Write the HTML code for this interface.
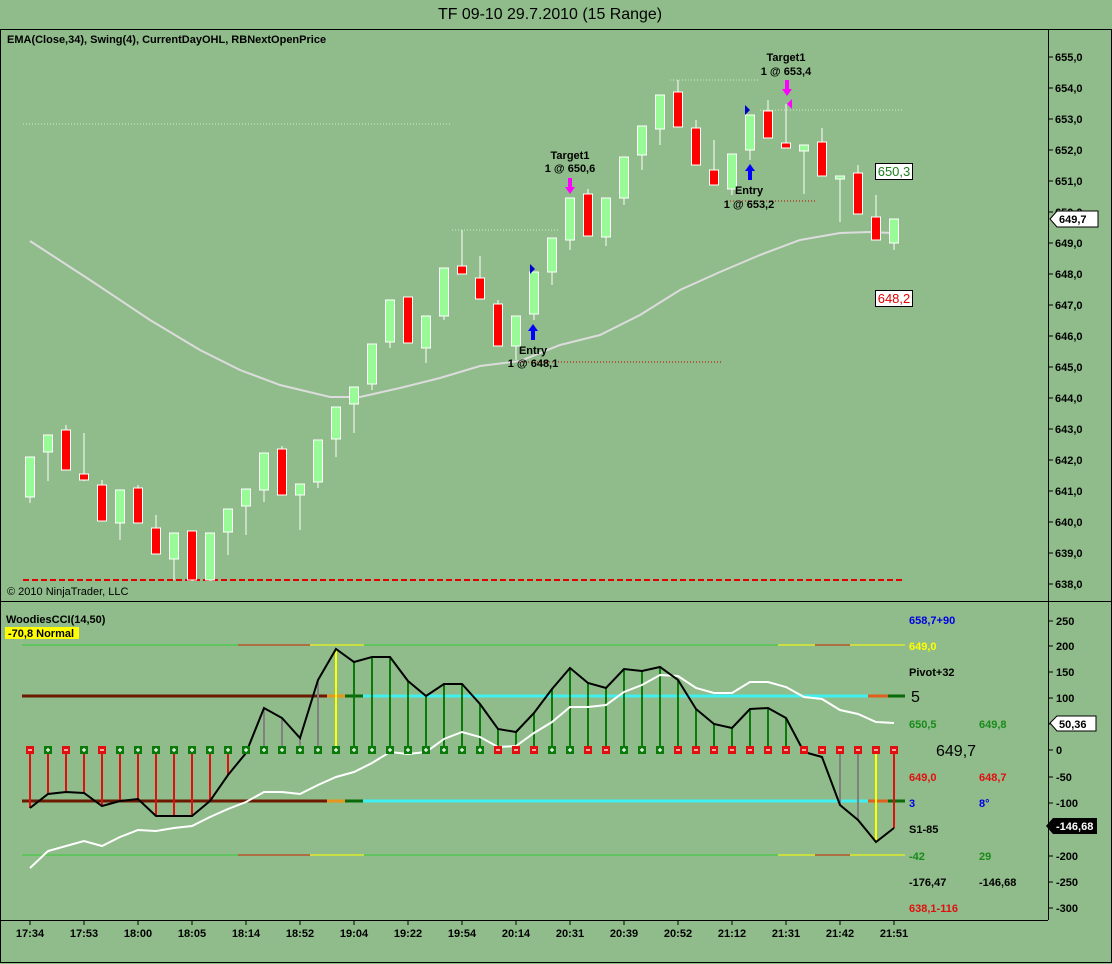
<!DOCTYPE html>
<html><head><meta charset="utf-8"><style>
html,body{margin:0;padding:0;background:#8fbc8a;}
svg{display:block;font-family:"Liberation Sans",sans-serif;}
.b{font-weight:bold;font-size:11px;}
</style></head><body>
<svg width="1112" height="964" viewBox="0 0 1112 964" xmlns="http://www.w3.org/2000/svg">
<rect x="0" y="0" width="1112" height="964" fill="#8fbc8a"/>
<text x="550" y="19" font-size="16" text-anchor="middle" fill="#000" textLength="224" lengthAdjust="spacingAndGlyphs">TF 09-10  29.7.2010 (15 Range)</text>
<rect x="0.5" y="29.5" width="1111" height="933" fill="none" stroke="#000"/>
<line x1="0" y1="601.5" x2="1112" y2="601.5" stroke="#000"/>
<line x1="1048.5" y1="29" x2="1048.5" y2="920" stroke="#000"/>
<line x1="0" y1="920.5" x2="1048" y2="920.5" stroke="#000"/>
<text x="7" y="43" class="b">EMA(Close,34), Swing(4), CurrentDayOHL, RBNextOpenPrice</text>
<text x="7" y="595" font-size="11">© 2010 NinjaTrader, LLC</text>
<g stroke="#000">
<line x1="1048" y1="57" x2="1053" y2="57"/><line x1="1048" y1="88" x2="1053" y2="88"/><line x1="1048" y1="119" x2="1053" y2="119"/><line x1="1048" y1="150" x2="1053" y2="150"/><line x1="1048" y1="181" x2="1053" y2="181"/><line x1="1048" y1="212" x2="1053" y2="212"/><line x1="1048" y1="243" x2="1053" y2="243"/><line x1="1048" y1="274" x2="1053" y2="274"/><line x1="1048" y1="305" x2="1053" y2="305"/><line x1="1048" y1="336" x2="1053" y2="336"/><line x1="1048" y1="367" x2="1053" y2="367"/><line x1="1048" y1="398" x2="1053" y2="398"/><line x1="1048" y1="429" x2="1053" y2="429"/><line x1="1048" y1="460" x2="1053" y2="460"/><line x1="1048" y1="491" x2="1053" y2="491"/><line x1="1048" y1="522" x2="1053" y2="522"/><line x1="1048" y1="553" x2="1053" y2="553"/><line x1="1048" y1="584" x2="1053" y2="584"/>
</g>
<g font-size="11" font-weight="bold" fill="#000">
<text x="1055" y="61">655,0</text><text x="1055" y="92">654,0</text><text x="1055" y="123">653,0</text><text x="1055" y="154">652,0</text><text x="1055" y="185">651,0</text><text x="1055" y="216">650,0</text><text x="1055" y="247">649,0</text><text x="1055" y="278">648,0</text><text x="1055" y="309">647,0</text><text x="1055" y="340">646,0</text><text x="1055" y="371">645,0</text><text x="1055" y="402">644,0</text><text x="1055" y="433">643,0</text><text x="1055" y="464">642,0</text><text x="1055" y="495">641,0</text><text x="1055" y="526">640,0</text><text x="1055" y="557">639,0</text><text x="1055" y="588">638,0</text>
</g>
<path d="M1050,219 L1057,211 L1098,211 L1098,227 L1057,227 Z" fill="#fff" stroke="#000"/>
<text x="1059" y="223" class="b">649,7</text>
<g stroke-dasharray="1,2" stroke-width="1">
<line x1="23" y1="124" x2="452" y2="124" stroke="#c8f0c0"/>
<line x1="452" y1="230" x2="560" y2="230" stroke="#c8f0c0"/>
<line x1="670" y1="80" x2="760" y2="80" stroke="#c8f0c0"/>
<line x1="760" y1="110" x2="902" y2="110" stroke="#c8f0c0"/>
<line x1="510" y1="362" x2="723" y2="362" stroke="#c00000"/>
<line x1="730" y1="201" x2="815" y2="201" stroke="#c00000"/>
</g>
<line x1="23" y1="580" x2="905" y2="580" stroke="#e00000" stroke-width="2" stroke-dasharray="6,3"/>
<polyline fill="none" stroke="#dcdcdc" stroke-width="2" points="30,241 90,280 150,320 200,350 240,370 280,385 330,397 360,397 400,388 440,378 480,366 520,361 560,345 600,335 640,315 680,290 720,272 760,255 800,240 840,233 870,232 894,233"/>
<g stroke="#fff" stroke-width="1">
<line x1="30" y1="457" x2="30" y2="503"/><rect x="25.5" y="457" width="9" height="40" fill="#98fb98"/>
<line x1="48" y1="435" x2="48" y2="481"/><rect x="43.5" y="435" width="9" height="17" fill="#98fb98"/>
<line x1="66" y1="425" x2="66" y2="470"/><rect x="61.5" y="430" width="9" height="40" fill="#f00"/>
<line x1="84" y1="433" x2="84" y2="481"/><rect x="79.5" y="474" width="9" height="6" fill="#f00"/>
<line x1="102" y1="480" x2="102" y2="521"/><rect x="97.5" y="485" width="9" height="36" fill="#f00"/>
<line x1="120" y1="490" x2="120" y2="540"/><rect x="115.5" y="490" width="9" height="33" fill="#98fb98"/>
<line x1="138" y1="485" x2="138" y2="523"/><rect x="133.5" y="488" width="9" height="35" fill="#f00"/>
<line x1="156" y1="515" x2="156" y2="554"/><rect x="151.5" y="528" width="9" height="26" fill="#f00"/>
<line x1="174" y1="533" x2="174" y2="580"/><rect x="169.5" y="533" width="9" height="26" fill="#98fb98"/>
<line x1="192" y1="531" x2="192" y2="580"/><rect x="187.5" y="531" width="9" height="49" fill="#f00"/>
<line x1="210" y1="533" x2="210" y2="580"/><rect x="205.5" y="533" width="9" height="47" fill="#98fb98"/>
<line x1="228" y1="509" x2="228" y2="555"/><rect x="223.5" y="509" width="9" height="23" fill="#98fb98"/>
<line x1="246" y1="489" x2="246" y2="535"/><rect x="241.5" y="489" width="9" height="17" fill="#98fb98"/>
<line x1="264" y1="453" x2="264" y2="502"/><rect x="259.5" y="453" width="9" height="37" fill="#98fb98"/>
<line x1="282" y1="446" x2="282" y2="495"/><rect x="277.5" y="449" width="9" height="46" fill="#f00"/>
<line x1="300" y1="484" x2="300" y2="530"/><rect x="295.5" y="484" width="9" height="11" fill="#98fb98"/>
<line x1="318" y1="440" x2="318" y2="488"/><rect x="313.5" y="440" width="9" height="42" fill="#98fb98"/>
<line x1="336" y1="407" x2="336" y2="457"/><rect x="331.5" y="407" width="9" height="32" fill="#98fb98"/>
<line x1="354" y1="387" x2="354" y2="433"/><rect x="349.5" y="387" width="9" height="17" fill="#98fb98"/>
<line x1="372" y1="344" x2="372" y2="390"/><rect x="367.5" y="344" width="9" height="40" fill="#98fb98"/>
<line x1="390" y1="300" x2="390" y2="348"/><rect x="385.5" y="300" width="9" height="42" fill="#98fb98"/>
<line x1="408" y1="297" x2="408" y2="343"/><rect x="403.5" y="297" width="9" height="46" fill="#f00"/>
<line x1="426" y1="316" x2="426" y2="363"/><rect x="421.5" y="316" width="9" height="32" fill="#98fb98"/>
<line x1="444" y1="268" x2="444" y2="320"/><rect x="439.5" y="268" width="9" height="48" fill="#98fb98"/>
<line x1="462" y1="230" x2="462" y2="274"/><rect x="457.5" y="266" width="9" height="8" fill="#f00"/>
<line x1="480" y1="256" x2="480" y2="299"/><rect x="475.5" y="278" width="9" height="21" fill="#f00"/>
<line x1="498" y1="300" x2="498" y2="346"/><rect x="493.5" y="304" width="9" height="42" fill="#f00"/>
<line x1="516" y1="316" x2="516" y2="360"/><rect x="511.5" y="316" width="9" height="30" fill="#98fb98"/>
<line x1="534" y1="272" x2="534" y2="320"/><rect x="529.5" y="272" width="9" height="42" fill="#98fb98"/>
<line x1="552" y1="238" x2="552" y2="285"/><rect x="547.5" y="238" width="9" height="34" fill="#98fb98"/>
<line x1="570" y1="198" x2="570" y2="250"/><rect x="565.5" y="198" width="9" height="42" fill="#98fb98"/>
<line x1="588" y1="189" x2="588" y2="236"/><rect x="583.5" y="194" width="9" height="42" fill="#f00"/>
<line x1="606" y1="198" x2="606" y2="246"/><rect x="601.5" y="198" width="9" height="39" fill="#98fb98"/>
<line x1="624" y1="157" x2="624" y2="205"/><rect x="619.5" y="157" width="9" height="41" fill="#98fb98"/>
<line x1="642" y1="126" x2="642" y2="170"/><rect x="637.5" y="126" width="9" height="29" fill="#98fb98"/>
<line x1="660" y1="95" x2="660" y2="145"/><rect x="655.5" y="95" width="9" height="34" fill="#98fb98"/>
<line x1="678" y1="80" x2="678" y2="127"/><rect x="673.5" y="92" width="9" height="35" fill="#f00"/>
<line x1="696" y1="120" x2="696" y2="165"/><rect x="691.5" y="128" width="9" height="37" fill="#f00"/>
<line x1="714" y1="140" x2="714" y2="185"/><rect x="709.5" y="170" width="9" height="15" fill="#f00"/>
<line x1="732" y1="154" x2="732" y2="195"/><rect x="727.5" y="154" width="9" height="35" fill="#98fb98"/>
<line x1="750" y1="115" x2="750" y2="160"/><rect x="745.5" y="115" width="9" height="35" fill="#98fb98"/>
<line x1="768" y1="100" x2="768" y2="138"/><rect x="763.5" y="111" width="9" height="27" fill="#f00"/>
<line x1="786" y1="104" x2="786" y2="148"/><rect x="781.5" y="143" width="9" height="5" fill="#f00"/>
<line x1="804" y1="145" x2="804" y2="194"/><rect x="799.5" y="145" width="9" height="6" fill="#98fb98"/>
<line x1="822" y1="128" x2="822" y2="176"/><rect x="817.5" y="142" width="9" height="34" fill="#f00"/>
<line x1="840" y1="176" x2="840" y2="222"/><rect x="835.5" y="176" width="9" height="3" fill="#98fb98"/>
<line x1="858" y1="165" x2="858" y2="214"/><rect x="853.5" y="173" width="9" height="41" fill="#f00"/>
<line x1="876" y1="195" x2="876" y2="240"/><rect x="871.5" y="217" width="9" height="23" fill="#f00"/>
<line x1="894" y1="219" x2="894" y2="250"/><rect x="889.5" y="219" width="9" height="24" fill="#98fb98"/>
</g>
<g class="b" text-anchor="middle" fill="#000">
<text x="533" y="354">Entry</text><text x="533" y="367">1 @ 648,1</text>
<text x="570" y="159">Target1</text><text x="570" y="172">1 @ 650,6</text>
<text x="749" y="194">Entry</text><text x="749" y="208">1 @ 653,2</text>
<text x="786" y="61">Target1</text><text x="786" y="75">1 @ 653,4</text>
</g>
<path d="M533,324 L538,331 L535,331 L535,340 L531,340 L531,331 L528,331 Z" fill="#0000ff"/>
<path d="M750,164 L755,171 L752,171 L752,180 L748,180 L748,171 L745,171 Z" fill="#0000ff"/>
<path d="M570,194 L575,187 L572,187 L572,178 L568,178 L568,187 L565,187 Z" fill="#ff00ff"/>
<path d="M787,96 L792,89 L789,89 L789,80 L785,80 L785,89 L782,89 Z" fill="#ff00ff"/>
<path d="M530,264 L535,269 L530,274 Z" fill="#0000cc"/>
<path d="M745,105 L750,110 L745,115 Z" fill="#0000cc"/>
<path d="M792,99 L787,104 L792,109 Z" fill="#ff00ff"/>
<rect x="875.5" y="163.5" width="37" height="16" fill="#fff" stroke="#000"/>
<text x="894" y="176" font-size="13" text-anchor="middle" fill="#1a7f1a">650,3</text>
<rect x="875.5" y="290.5" width="37" height="16" fill="#fff" stroke="#000"/>
<text x="894" y="303" font-size="13" text-anchor="middle" fill="#e00000">648,2</text>

<text x="6" y="623" class="b">WoodiesCCI(14,50)</text>
<rect x="5" y="627" width="74" height="12" fill="#ffff00"/>
<text x="8" y="637" class="b">-70,8 Normal</text>
<g font-size="11" font-weight="bold" fill="#000">
<text x="1056" y="625">250</text><text x="1056" y="650">200</text><text x="1056" y="676">150</text><text x="1056" y="702">100</text><text x="1056" y="728">50</text><text x="1056" y="754">0</text><text x="1056" y="781">-50</text><text x="1056" y="807">-100</text><text x="1056" y="833">-150</text><text x="1056" y="860">-200</text><text x="1056" y="886">-250</text><text x="1056" y="912">-300</text>
</g>
<g stroke="#000"><line x1="1048" y1="621" x2="1053" y2="621"/><line x1="1048" y1="646" x2="1053" y2="646"/><line x1="1048" y1="672" x2="1053" y2="672"/><line x1="1048" y1="698" x2="1053" y2="698"/><line x1="1048" y1="724" x2="1053" y2="724"/><line x1="1048" y1="750" x2="1053" y2="750"/><line x1="1048" y1="777" x2="1053" y2="777"/><line x1="1048" y1="803" x2="1053" y2="803"/><line x1="1048" y1="829" x2="1053" y2="829"/><line x1="1048" y1="856" x2="1053" y2="856"/><line x1="1048" y1="882" x2="1053" y2="882"/><line x1="1048" y1="908" x2="1053" y2="908"/></g>
<g stroke-width="1">
<line x1="22" y1="645" x2="905" y2="645" stroke="#33cc33"/>
<line x1="22" y1="855" x2="905" y2="855" stroke="#33cc33"/>
<line x1="238" y1="645" x2="310" y2="645" stroke="#cc2200"/><line x1="310" y1="645" x2="364" y2="645" stroke="#ffff00"/>
<line x1="238" y1="855" x2="310" y2="855" stroke="#cc2200"/><line x1="310" y1="855" x2="364" y2="855" stroke="#ffff00"/>
<line x1="778" y1="645" x2="815" y2="645" stroke="#ffff00"/><line x1="815" y1="645" x2="850" y2="645" stroke="#cc2200"/><line x1="850" y1="645" x2="905" y2="645" stroke="#ffff00"/>
<line x1="778" y1="855" x2="815" y2="855" stroke="#ffff00"/><line x1="815" y1="855" x2="850" y2="855" stroke="#cc2200"/><line x1="850" y1="855" x2="905" y2="855" stroke="#ffff00"/>
</g>
<g stroke-width="3">
<line x1="22" y1="696" x2="327" y2="696" stroke="#6b1a00"/><line x1="327" y1="696" x2="345" y2="696" stroke="#e8961e"/><line x1="345" y1="696" x2="363" y2="696" stroke="#0a6a0a"/><line x1="363" y1="696" x2="868" y2="696" stroke="#40f0f0"/><line x1="868" y1="696" x2="888" y2="696" stroke="#e06020"/><line x1="888" y1="696" x2="905" y2="696" stroke="#0a6a0a"/>
<line x1="22" y1="801" x2="327" y2="801" stroke="#6b1a00"/><line x1="327" y1="801" x2="345" y2="801" stroke="#e8961e"/><line x1="345" y1="801" x2="363" y2="801" stroke="#0a6a0a"/><line x1="363" y1="801" x2="868" y2="801" stroke="#40f0f0"/><line x1="868" y1="801" x2="888" y2="801" stroke="#e06020"/><line x1="888" y1="801" x2="905" y2="801" stroke="#0a6a0a"/>
</g>
<g stroke-width="2">
<g stroke="#e01010">
<line x1="30" y1="750" x2="30" y2="808"/><line x1="48" y1="750" x2="48" y2="794"/><line x1="66" y1="750" x2="66" y2="792"/><line x1="84" y1="750" x2="84" y2="793"/><line x1="102" y1="750" x2="102" y2="806"/><line x1="120" y1="750" x2="120" y2="801"/><line x1="138" y1="750" x2="138" y2="799"/><line x1="156" y1="750" x2="156" y2="816"/><line x1="174" y1="750" x2="174" y2="816"/><line x1="192" y1="750" x2="192" y2="816"/><line x1="210" y1="750" x2="210" y2="801"/><line x1="228" y1="750" x2="228" y2="775"/>
<line x1="894" y1="750" x2="894" y2="828"/>
</g>
<g stroke="#808080">
<line x1="264" y1="750" x2="264" y2="708"/><line x1="282" y1="750" x2="282" y2="718"/><line x1="300" y1="750" x2="300" y2="738"/><line x1="318" y1="750" x2="318" y2="680"/>
<line x1="840" y1="750" x2="840" y2="805"/><line x1="858" y1="750" x2="858" y2="820"/>
</g>
<g stroke="#ffff00"><line x1="336" y1="750" x2="336" y2="649"/><line x1="876" y1="750" x2="876" y2="842"/></g>
<g stroke="#0a7a0a">
<line x1="354" y1="750" x2="354" y2="662"/><line x1="372" y1="750" x2="372" y2="657"/><line x1="390" y1="750" x2="390" y2="657"/><line x1="408" y1="750" x2="408" y2="681"/><line x1="426" y1="750" x2="426" y2="696"/><line x1="444" y1="750" x2="444" y2="684"/><line x1="462" y1="750" x2="462" y2="684"/><line x1="480" y1="750" x2="480" y2="704"/><line x1="498" y1="750" x2="498" y2="729"/><line x1="516" y1="750" x2="516" y2="732"/><line x1="534" y1="750" x2="534" y2="713"/><line x1="552" y1="750" x2="552" y2="689"/><line x1="570" y1="750" x2="570" y2="668"/><line x1="588" y1="750" x2="588" y2="683"/><line x1="606" y1="750" x2="606" y2="688"/><line x1="624" y1="750" x2="624" y2="669"/><line x1="642" y1="750" x2="642" y2="671"/><line x1="660" y1="750" x2="660" y2="667"/><line x1="678" y1="750" x2="678" y2="680"/><line x1="696" y1="750" x2="696" y2="709"/><line x1="714" y1="750" x2="714" y2="724"/><line x1="732" y1="750" x2="732" y2="728"/><line x1="750" y1="750" x2="750" y2="709"/><line x1="768" y1="750" x2="768" y2="708"/><line x1="786" y1="750" x2="786" y2="718"/>
</g>
</g>
<polyline fill="none" stroke="#fff" stroke-width="2" points="30,868 48,851 66,846 84,841 102,846 120,837 138,830 156,831 174,828 192,826 210,817 228,809 246,802 264,792 282,792 300,794 318,785 336,777 354,772 372,763 390,752 408,754 426,752 444,739 462,732 480,737 498,747 516,746 534,733 552,722 570,707 588,707 606,705 624,692 642,685 660,675 678,676 696,688 714,693 732,693 750,682 768,682 786,687 804,697 822,699 840,710 858,714 876,722 894,723"/>
<polyline fill="none" stroke="#000" stroke-width="2" points="30,808 48,794 66,792 84,793 102,806 120,801 138,799 156,816 174,816 192,816 210,801 228,775 246,753 264,708 282,718 300,738 318,680 336,649 354,662 372,657 390,657 408,681 426,696 444,684 462,684 480,704 498,729 516,732 534,713 552,689 570,668 588,683 606,688 624,669 642,671 660,667 678,680 696,709 714,724 732,728 750,709 768,708 786,718 804,752 822,757 840,805 858,820 876,842 894,828"/>
<g>
<rect x="26" y="746" width="8" height="8" fill="#e01010"/><rect x="44" y="746" width="8" height="8" fill="#0a7a0a"/><rect x="62" y="746" width="8" height="8" fill="#e01010"/><rect x="80" y="746" width="8" height="8" fill="#0a7a0a"/><rect x="98" y="746" width="8" height="8" fill="#e01010"/>
<rect x="116" y="746" width="8" height="8" fill="#0a7a0a"/><rect x="134" y="746" width="8" height="8" fill="#0a7a0a"/><rect x="152" y="746" width="8" height="8" fill="#0a7a0a"/><rect x="170" y="746" width="8" height="8" fill="#0a7a0a"/><rect x="188" y="746" width="8" height="8" fill="#0a7a0a"/><rect x="206" y="746" width="8" height="8" fill="#0a7a0a"/><rect x="224" y="746" width="8" height="8" fill="#0a7a0a"/><rect x="242" y="746" width="8" height="8" fill="#0a7a0a"/><rect x="260" y="746" width="8" height="8" fill="#0a7a0a"/><rect x="278" y="746" width="8" height="8" fill="#0a7a0a"/><rect x="296" y="746" width="8" height="8" fill="#0a7a0a"/><rect x="314" y="746" width="8" height="8" fill="#0a7a0a"/><rect x="332" y="746" width="8" height="8" fill="#0a7a0a"/><rect x="350" y="746" width="8" height="8" fill="#0a7a0a"/><rect x="368" y="746" width="8" height="8" fill="#0a7a0a"/><rect x="386" y="746" width="8" height="8" fill="#0a7a0a"/><rect x="404" y="746" width="8" height="8" fill="#0a7a0a"/><rect x="422" y="746" width="8" height="8" fill="#0a7a0a"/><rect x="440" y="746" width="8" height="8" fill="#0a7a0a"/><rect x="458" y="746" width="8" height="8" fill="#0a7a0a"/><rect x="476" y="746" width="8" height="8" fill="#0a7a0a"/>
<rect x="494" y="746" width="8" height="8" fill="#e01010"/><rect x="512" y="746" width="8" height="8" fill="#e01010"/><rect x="530" y="746" width="8" height="8" fill="#e01010"/>
<rect x="548" y="746" width="8" height="8" fill="#0a7a0a"/><rect x="566" y="746" width="8" height="8" fill="#0a7a0a"/>
<rect x="584" y="746" width="8" height="8" fill="#e01010"/><rect x="602" y="746" width="8" height="8" fill="#e01010"/>
<rect x="620" y="746" width="8" height="8" fill="#0a7a0a"/><rect x="638" y="746" width="8" height="8" fill="#0a7a0a"/><rect x="656" y="746" width="8" height="8" fill="#0a7a0a"/>
<rect x="674" y="746" width="8" height="8" fill="#e01010"/><rect x="692" y="746" width="8" height="8" fill="#e01010"/><rect x="710" y="746" width="8" height="8" fill="#e01010"/><rect x="728" y="746" width="8" height="8" fill="#e01010"/><rect x="746" y="746" width="8" height="8" fill="#e01010"/><rect x="764" y="746" width="8" height="8" fill="#e01010"/><rect x="782" y="746" width="8" height="8" fill="#e01010"/><rect x="800" y="746" width="8" height="8" fill="#e01010"/><rect x="818" y="746" width="8" height="8" fill="#e01010"/><rect x="836" y="746" width="8" height="8" fill="#e01010"/><rect x="854" y="746" width="8" height="8" fill="#e01010"/><rect x="872" y="746" width="8" height="8" fill="#e01010"/><rect x="890" y="746" width="8" height="8" fill="#e01010"/>
</g>
<line x1="28" y1="750" x2="898" y2="750" stroke="#fff" stroke-width="1.2" stroke-dasharray="4,14"/>
<g stroke="#fff" stroke-width="1.2">
<line x1="48" y1="748" x2="48" y2="752"/><line x1="84" y1="748" x2="84" y2="752"/><line x1="120" y1="748" x2="120" y2="752"/><line x1="138" y1="748" x2="138" y2="752"/><line x1="156" y1="748" x2="156" y2="752"/><line x1="174" y1="748" x2="174" y2="752"/><line x1="192" y1="748" x2="192" y2="752"/><line x1="210" y1="748" x2="210" y2="752"/><line x1="228" y1="748" x2="228" y2="752"/><line x1="246" y1="748" x2="246" y2="752"/><line x1="264" y1="748" x2="264" y2="752"/><line x1="282" y1="748" x2="282" y2="752"/><line x1="300" y1="748" x2="300" y2="752"/><line x1="318" y1="748" x2="318" y2="752"/><line x1="336" y1="748" x2="336" y2="752"/><line x1="354" y1="748" x2="354" y2="752"/><line x1="372" y1="748" x2="372" y2="752"/><line x1="390" y1="748" x2="390" y2="752"/><line x1="408" y1="748" x2="408" y2="752"/><line x1="426" y1="748" x2="426" y2="752"/><line x1="444" y1="748" x2="444" y2="752"/><line x1="462" y1="748" x2="462" y2="752"/><line x1="480" y1="748" x2="480" y2="752"/><line x1="552" y1="748" x2="552" y2="752"/><line x1="570" y1="748" x2="570" y2="752"/><line x1="624" y1="748" x2="624" y2="752"/><line x1="642" y1="748" x2="642" y2="752"/><line x1="660" y1="748" x2="660" y2="752"/>
</g>
<g font-size="11" font-weight="bold">
<text x="909" y="624" fill="#0000e0">658,7+90</text>
<text x="909" y="650" fill="#ffff00">649,0</text>
<text x="909" y="676" fill="#000">Pivot+32</text>
<text x="909" y="728" fill="#1a8a1a">650,5</text><text x="979" y="728" fill="#1a8a1a">649,8</text>
<text x="909" y="781" fill="#e01010">649,0</text><text x="979" y="781" fill="#e01010">648,7</text>
<text x="909" y="807" fill="#0000e0">3</text><text x="979" y="807" fill="#0000e0">8°</text>
<text x="909" y="833" fill="#000">S1-85</text>
<text x="909" y="860" fill="#1a8a1a">-42</text><text x="979" y="860" fill="#1a8a1a">29</text>
<text x="909" y="886" fill="#000">-176,47</text><text x="979" y="886" fill="#000">-146,68</text>
<text x="909" y="912" fill="#e01010">638,1-116</text>
</g>
<text x="911" y="702" font-size="16" fill="#000">5</text>
<text x="936" y="756" font-size="16" fill="#000">649,7</text>
<path d="M1050,723 L1057,716 L1096,716 L1096,731 L1057,731 Z" fill="#fff" stroke="#000"/>
<text x="1059" y="728" class="b">50,36</text>
<path d="M1046,826 L1053,818 L1097,818 L1097,834 L1053,834 Z" fill="#000"/>
<text x="1056" y="830" class="b" fill="#fff">-146,68</text>
<g stroke="#000">
<line x1="30" y1="920" x2="30" y2="925"/><line x1="84" y1="920" x2="84" y2="925"/><line x1="138" y1="920" x2="138" y2="925"/><line x1="192" y1="920" x2="192" y2="925"/><line x1="246" y1="920" x2="246" y2="925"/><line x1="300" y1="920" x2="300" y2="925"/><line x1="354" y1="920" x2="354" y2="925"/><line x1="408" y1="920" x2="408" y2="925"/><line x1="462" y1="920" x2="462" y2="925"/><line x1="516" y1="920" x2="516" y2="925"/><line x1="570" y1="920" x2="570" y2="925"/><line x1="624" y1="920" x2="624" y2="925"/><line x1="678" y1="920" x2="678" y2="925"/><line x1="732" y1="920" x2="732" y2="925"/><line x1="786" y1="920" x2="786" y2="925"/><line x1="840" y1="920" x2="840" y2="925"/><line x1="894" y1="920" x2="894" y2="925"/>
</g>
<g class="b" text-anchor="middle" fill="#000">
<text x="30" y="937">17:34</text><text x="84" y="937">17:53</text><text x="138" y="937">18:00</text><text x="192" y="937">18:05</text><text x="246" y="937">18:14</text><text x="300" y="937">18:52</text><text x="354" y="937">19:04</text><text x="408" y="937">19:22</text><text x="462" y="937">19:54</text><text x="516" y="937">20:14</text><text x="570" y="937">20:31</text><text x="624" y="937">20:39</text><text x="678" y="937">20:52</text><text x="732" y="937">21:12</text><text x="786" y="937">21:31</text><text x="840" y="937">21:42</text><text x="894" y="937">21:51</text>
</g>
</svg>
</body></html>
